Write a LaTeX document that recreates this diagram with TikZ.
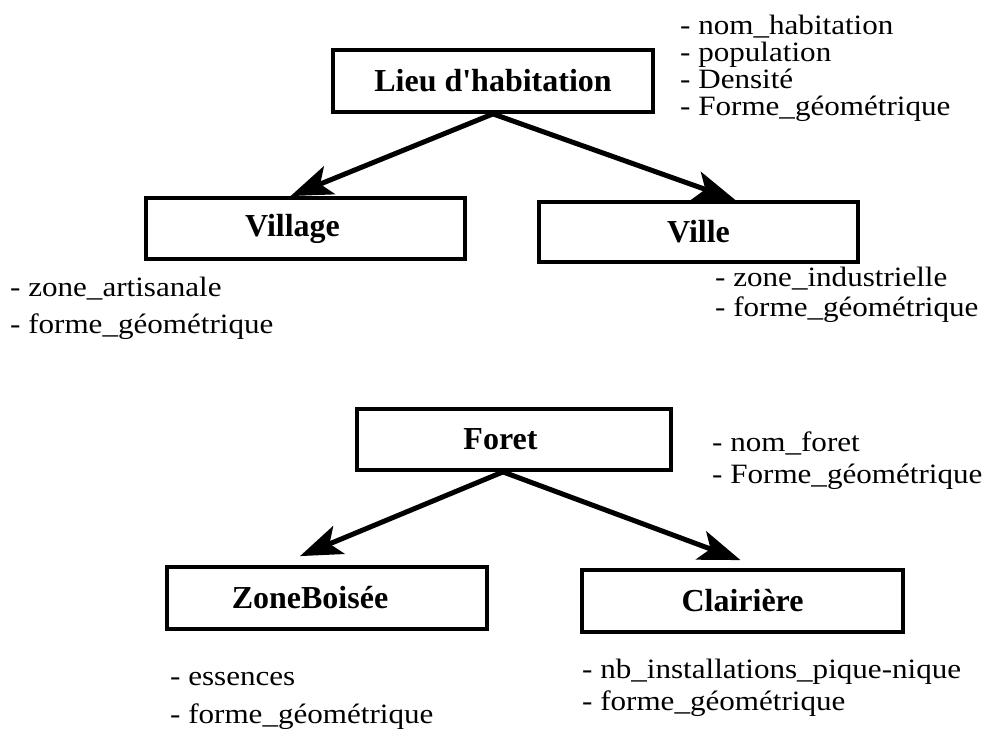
\documentclass[tikz,border=0pt]{standalone}
\usepackage{fontspec}
\setmainfont{Liberation Serif}
\newfontfamily\attrfont{Liberation Serif}[FakeStretch=1.11]
\usetikzlibrary{arrows.meta, positioning}
\tikzset{
    classbox/.style={rectangle, draw=black, line width=3.8pt, minimum width=320pt, minimum height=62pt, inner sep=0pt, text centered, font=\bfseries\fontsize{32}{36}\selectfont},
    attrlist/.style={anchor=north west, inner sep=0pt, align=left, font=\attrfont\fontsize{28}{27}\selectfont},
    herit/.style={draw, line width=5pt, -{Stealth[length=42pt, width=30pt, inset=10pt]}}
}

\begin{document}
\begin{tikzpicture}[x=1pt, y=-1pt]
    \useasboundingbox (0,0) rectangle (984,736);

    % Lieu d'habitation
    \node [classbox] (lieu) at (493,81) {Lieu d\textquotesingle habitation};
    \node [attrlist] (lieuattr) at (680,14.5) {- nom\_habitation\\- population\\- Densité\\- Forme\_géométrique};

    \node [classbox, minimum width=319pt, minimum height=61pt] (village) at (305.5,228.5) {Village\hspace*{26pt}};
    \node [attrlist] (villageattr) at (10,276.9) {- zone\_artisanale\\[10pt]- forme\_géométrique};

    \node [classbox, minimum width=319pt, minimum height=60pt] (ville) at (698.5,232) {Ville};
    \node [attrlist] (villeattr) at (715,266.9) {- zone\_industrielle\\[3pt]- forme\_géométrique};

    % Foret
    \node [classbox, minimum width=314pt, minimum height=61pt] (foret) at (514,439.5) {Foret\hspace*{27pt}};
    \node [attrlist] (foretattr) at (712,431.9) {- nom\_foret\\[5pt]- Forme\_géométrique};

    \node [classbox] (zoneboisee) at (327,598) {ZoneBoisée\hspace*{34pt}};
    \node [attrlist] (zoneboiseeattr) at (170,672.1) {- essences\\[11pt]- forme\_géométrique};

    \node [classbox, minimum width=321pt] (clairiere) at (742.5,601) {Clairière};
    \node [attrlist] (clairiereattr) at (582,658.9) {- nb\_installations\_pique-nique\\[5pt]- forme\_géométrique};

    % Heritage
    \draw [herit] (lieu.south) -- ([xshift=-15pt]village.north);
    \draw [herit] (lieu.south) -- ([xshift=37pt]ville.north);
    \draw [herit] ([xshift=-11pt]foret.south) -- ([xshift=-27pt, yshift=9pt]zoneboisee.north);
    \draw [herit] ([xshift=-11pt]foret.south) -- ([xshift=-2pt, yshift=8pt]clairiere.north);

\end{tikzpicture}
\end{document}
